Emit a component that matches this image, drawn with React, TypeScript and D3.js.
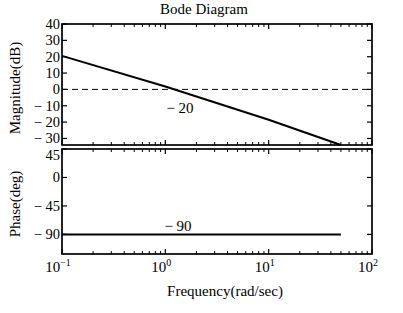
import React from "react";
import * as d3 from "d3";

const freqs = [0.1, 1, 10, 50];
const magnitudeDb = [20.5, 1.8, -18.6, -34];
const phaseDeg = [-90, -90, -90, -90];
const magTicks = [40, 30, 20, 10, 0, -10, -20, -30];
const phaseTicks = [45, 0, -45, -90];
const freqTicks = [0.1, 1, 10, 100];
const freqTickExp = ["\u22121", "0", "1", "2"];

const W = 403, H = 313;
const L = 62, R = 372;
const magTop = 24, magBot = 145;
const phTop = 149, phBot = 254;
const FONT = "'Liberation Serif', 'DejaVu Serif', serif";

function fmt(v: number) {
  return v < 0 ? `\u2212 ${Math.abs(v)}` : `${v}`;
}

function Panel({ y, ticks, top, bot, showXLabels, shiftTop }: { y: d3.ScaleLinear<number, number>; ticks: number[]; top: number; bot: number; showXLabels: boolean; shiftTop: boolean }) {
  const x = d3.scaleLog().domain([0.1, 100]).range([L, R]);
  const minors: number[] = [];
  for (const dec of [0.1, 1, 10]) for (let k = 2; k <= 9; k++) minors.push(dec * k);
  return (
    <g>
      {ticks.map((t) => {
        const ty = y(t);
        const labelY = shiftTop && ty - top < 4 ? ty + 11 : ty + 5;
        return (
          <g key={"y" + t}>
            <line x1={L} x2={L + 5} y1={ty} y2={ty} stroke="#000" strokeWidth={1.2} />
            <line x1={R} x2={R - 5} y1={ty} y2={ty} stroke="#000" strokeWidth={1.2} />
            <text x={L - 2} y={labelY} textAnchor="end" fontSize={14.5} fontFamily={FONT}>{fmt(t)}</text>
          </g>
        );
      })}
      {freqTicks.map((f) => (
        <g key={"x" + f}>
          <line x1={x(f)} x2={x(f)} y1={top} y2={top + 5} stroke="#000" strokeWidth={1.2} />
          <line x1={x(f)} x2={x(f)} y1={bot} y2={bot - 5} stroke="#000" strokeWidth={1.2} />
        </g>
      ))}
      {minors.map((f) => (
        <g key={"m" + f}>
          <line x1={x(f)} x2={x(f)} y1={top} y2={top + 3} stroke="#000" strokeWidth={1} />
          <line x1={x(f)} x2={x(f)} y1={bot} y2={bot - 3} stroke="#000" strokeWidth={1} />
        </g>
      ))}
      <rect x={L} y={top} width={R - L} height={bot - top} fill="none" stroke="#000" strokeWidth={1.7} />
      {showXLabels &&
        freqTicks.map((f, i) => (
          <text key={"xl" + f} x={x(f) - 4} y={bot + 18} textAnchor="middle" fontSize={15} fontFamily={FONT}>
            10
            <tspan dy={-6} fontSize={10}>{freqTickExp[i]}</tspan>
          </text>
        ))}
    </g>
  );
}

export default function App() {
  const x = d3.scaleLog().domain([0.1, 100]).range([L, R]);
  const yMag = d3.scaleLinear().domain([-34, 40]).range([magBot, magTop]);
  const yPh = d3.scaleLinear().domain([-121, 45]).range([phBot, phTop]);
  const magLine = d3.line<number>().x((_, i) => x(freqs[i])).y((d) => yMag(d));
  const phLine = d3.line<number>().x((_, i) => x(freqs[i])).y((d) => yPh(d));
  return (
    <svg width={W} height={H} style={{ position: "absolute", left: 0, top: 0, background: "#fff" }}>
      <rect width={W} height={H} fill="#fff" />
      <text x={204} y={14} textAnchor="middle" fontSize={15} fontFamily={FONT}>Bode Diagram</text>
      <Panel y={yMag} ticks={magTicks} top={magTop} bot={magBot} showXLabels={false} shiftTop={false} />
      <Panel y={yPh} ticks={phaseTicks} top={phTop} bot={phBot} showXLabels={true} shiftTop={true} />
      <line x1={L} x2={R} y1={yMag(0)} y2={yMag(0)} stroke="#000" strokeWidth={1} strokeDasharray="6,4" />
      <path d={magLine(magnitudeDb) || ""} fill="none" stroke="#000" strokeWidth={2} />
      <path d={phLine(phaseDeg) || ""} fill="none" stroke="#000" strokeWidth={2} />
      <text x={180} y={113} textAnchor="middle" fontSize={15} fontFamily={FONT}>{"\u2212 20"}</text>
      <text x={178} y={231} textAnchor="middle" fontSize={15} fontFamily={FONT}>{"\u2212 90"}</text>
      <text transform={`translate(20, ${88}) rotate(-90)`} textAnchor="middle" fontSize={15} fontFamily={FONT}>Magnitude(dB)</text>
      <text transform={`translate(20, ${204}) rotate(-90)`} textAnchor="middle" fontSize={15} fontFamily={FONT}>Phase(deg)</text>
      <text x={225} y={296} textAnchor="middle" fontSize={15} fontFamily={FONT}>Frequency(rad/sec)</text>
    </svg>
  );
}
